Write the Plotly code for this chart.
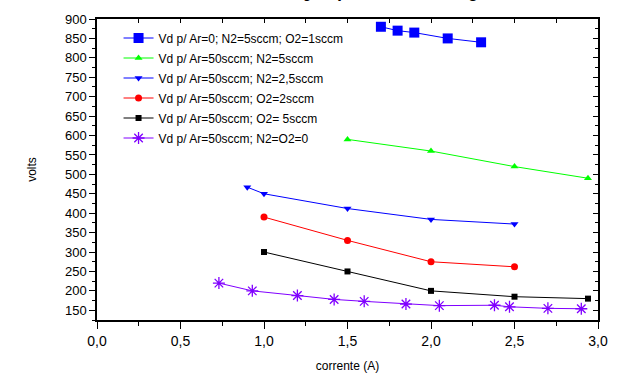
import plotly.graph_objects as go

# Discharge voltage (Vd) vs. current for each gas mixture
x_ar0 = [1.7, 1.8, 1.9, 2.1, 2.3]
y_ar0 = [880, 870, 865, 850, 840]

x_n2_5 = [1.5, 2.0, 2.5, 2.94]
y_n2_5 = [590, 560, 520, 490]

x_n2_25 = [0.9, 1.0, 1.5, 2.0, 2.5]
y_n2_25 = [467, 450, 412, 384, 372]

x_o2_2 = [1.0, 1.5, 2.0, 2.5]
y_o2_2 = [390, 330, 275, 262]

x_o2_5 = [1.0, 1.5, 2.0, 2.5, 2.94]
y_o2_5 = [300, 250, 200, 185, 180]

x_pure = [0.73, 0.93, 1.2, 1.42, 1.6, 1.85, 2.05, 2.38, 2.47, 2.7, 2.9]
y_pure = [220, 200, 188, 178, 173, 166, 162, 163, 159, 155, 154]

names = [
    "Vd p/ Ar=0; N2=5sccm; O2=1sccm",
    "Vd p/ Ar=50sccm; N2=5sccm",
    "Vd p/ Ar=50sccm; N2=2,5sccm",
    "Vd p/ Ar=50sccm; O2=2sccm",
    "Vd p/ Ar=50sccm; O2= 5sccm",
    "Vd p/ Ar=50sccm; N2=O2=0",
]

series = [
    (x_ar0, y_ar0, "#0000FF", "square", 10),
    (x_n2_5, y_n2_5, "#00FF00", "triangle-up", 7),
    (x_n2_25, y_n2_25, "#0000FF", "triangle-down", 7),
    (x_o2_2, y_o2_2, "#FF0000", "circle", 7),
    (x_o2_5, y_o2_5, "#000000", "square", 6),
    (x_pure, y_pure, "#8000FF", "asterisk-open", 10),
]

fig = go.Figure()
for i, ((xs, ys, color, symbol, size), name) in enumerate(zip(series, names)):
    marker = dict(color=color, symbol=symbol, size=size)
    if symbol == "asterisk-open":
        marker["line"] = dict(color=color, width=1.3)
    fig.add_trace(go.Scatter(
        x=xs, y=ys, name=name, mode="lines+markers", legendgroup=f"g{i}",
        line=dict(color=color, width=1), marker=marker,
    ))

# empty trace so the mirrored top/right axes get drawn
fig.add_trace(go.Scatter(x=[], y=[], xaxis="x2", yaxis="y2", showlegend=False))

axis_font = dict(family="Arial, Liberation Sans, sans-serif", color="#000")

fig.update_layout(
    width=627, height=383,
    margin=dict(l=97, r=29, t=14, b=56),
    paper_bgcolor="white", plot_bgcolor="white",
    separators=",.",
    font=dict(family="Arial, Liberation Sans, sans-serif", size=12, color="#000"),
    showlegend=True,
    legend=dict(
        x=0.043, y=0.985, xanchor="left", yanchor="top",
        bgcolor="rgba(0,0,0,0)", font=dict(size=12, color="#000"),
        itemwidth=30, tracegroupgap=1,
    ),
    xaxis=dict(
        range=[0, 3], dtick=0.5, tick0=0, tickformat=".1f",
        ticks="outside", ticklen=7, tickwidth=1, tickcolor="#000",
        minor=dict(dtick=0.25, ticks="outside", ticklen=4, tickcolor="#000"),
        showline=True, linecolor="#000", linewidth=1.5,
        showgrid=False, zeroline=False,
        tickfont=dict(size=14, **axis_font),
        title=dict(text="corrente (A)", font=dict(size=12, **axis_font), standoff=14),
    ),
    yaxis=dict(
        range=[125, 900], dtick=50, tick0=0,
        ticks="outside", ticklen=6, tickwidth=1, tickcolor="#000",
        minor=dict(dtick=25, ticks="outside", ticklen=3, tickcolor="#000"),
        showline=True, linecolor="#000", linewidth=1.5,
        showgrid=False, zeroline=False,
        tickfont=dict(size=13, **axis_font),
        title=dict(text="volts", font=dict(size=12, **axis_font), standoff=26),
    ),
    xaxis2=dict(
        overlaying="x", side="top", anchor="y2", range=[0, 3], dtick=0.25,
        ticks="inside", ticklen=4, tickcolor="#000", showticklabels=False,
        showline=True, linecolor="#000", linewidth=1.5,
        showgrid=False, zeroline=False,
    ),
    yaxis2=dict(
        overlaying="y", side="right", anchor="x2", range=[125, 900], dtick=50, tick0=0,
        ticks="inside", ticklen=5, tickcolor="#000", showticklabels=False,
        minor=dict(dtick=25, ticks="inside", ticklen=3, tickcolor="#000"),
        showline=True, linecolor="#000", linewidth=1.5,
        showgrid=False, zeroline=False,
    ),
)

# chart title, sitting just above the frame
fig.add_annotation(
    text="<b><i>Tensão x corrente p/ diferentes misturas gasosas</i></b>",
    xref="paper", yref="paper", x=0.5, y=1.0, yshift=16,
    xanchor="center", yanchor="bottom", showarrow=False,
    font=dict(family="Liberation Serif, Times New Roman, serif", size=18, color="#000"),
)

fig.write_html("out.html")
